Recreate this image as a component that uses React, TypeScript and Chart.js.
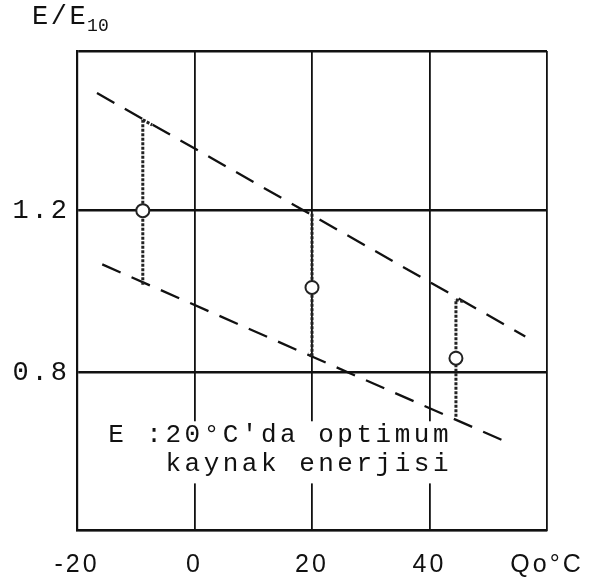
import { useEffect, useRef } from "react";
import { Chart, registerables } from "chart.js";

Chart.register(...registerables);

// ---- data ----
const xTickValues = [-20, 0, 20, 40, 60];
const xTickLabels = ["-20", "0", "20", "40", "Qo°C"];
const yLabelValues = [0.8, 1.2];
const yLabelTexts = ["0.8", "1.2"];
const xMin = -20;
const xMax = 60;
const yMin = 0.41;
const yMax = 1.595;

const upperX = [-16.6, 56.3];
const upperY = [1.491, 0.889];
const lowerX = [-15.7, 54.0];
const lowerY = [1.067, 0.622];

const barX = [-8.8, 20.0, 44.5];
const barHigh = [1.425, 1.195, 0.98];
const barLow = [1.017, 0.84, 0.69];
const barMid = [1.2, 1.01, 0.835];
// small hooks at bar ends: attach value, hook end x, hook end y
const hookAttachY = [1.425, 0.84, 0.98];
const hookEndX = [-7.2, 19.3, 45.7];
const hookEndY = [1.412, 0.846, 0.975];

const yTitle = "E/E";
const yTitleSub = "10";
const noteLines = ["E :20°C'da optimum", "   kaynak enerjisi"];
const noteX = -14.7;
const noteY = [0.627, 0.555];

const annotationPlugin = {
  id: "annot",
  beforeDraw(chart: any) {
    (chart.ctx as any).letterSpacing = "3px";
  },
  beforeDatasetsDraw(chart: any) {
    const { ctx, scales } = chart;
    const xs = scales.x;
    const ys = scales.y;
    ctx.save();
    ctx.font = "26px 'Liberation Mono'";
    (ctx as any).letterSpacing = "3.5px";
    const px = xs.getPixelForValue(noteX);
    const py0 = ys.getPixelForValue(noteY[0]);
    const py1 = ys.getPixelForValue(noteY[1]);
    let w = 0;
    noteLines.forEach((l) => (w = Math.max(w, ctx.measureText(l).width)));
    ctx.fillStyle = "#ffffff";
    ctx.fillRect(px - 8, py0 - 21, w + 10, py1 - py0 + 33);
    ctx.fillStyle = "#111";
    ctx.textBaseline = "alphabetic";
    ctx.textAlign = "left";
    ctx.fillText(noteLines[0], px, py0);
    ctx.fillText(noteLines[1], px, py1);
    ctx.restore();
  },
  afterDraw(chart: any) {
    const { ctx, chartArea } = chart;
    ctx.save();
    ctx.fillStyle = "#111";
    ctx.textAlign = "left";
    ctx.textBaseline = "alphabetic";
    ctx.font = "27px 'Liberation Mono'";
    (ctx as any).letterSpacing = "2.5px";
    const tx = chartArea.left - 45;
    const ty = chartArea.top - 27;
    ctx.fillText(yTitle, tx, ty);
    const tw = ctx.measureText(yTitle).width;
    ctx.font = "18px 'Liberation Mono'";
    (ctx as any).letterSpacing = "0px";
    ctx.fillText(yTitleSub, tx + tw - 1, ty + 7);
    ctx.restore();
  },
};

export default function App() {
  const ref = useRef<HTMLCanvasElement | null>(null);

  useEffect(() => {
    if (!ref.current) return;
    const line = (xsArr: number[], ysArr: number[]) => xsArr.map((x, i) => ({ x, y: ysArr[i] }));
    const bars = barX.map((x, i) => ({
      type: "line" as const,
      data: [
        { x, y: barLow[i] },
        { x, y: barHigh[i] },
        { x: NaN, y: NaN },
        { x, y: hookAttachY[i] },
        { x: hookEndX[i], y: hookEndY[i] },
      ],
      borderColor: "#222",
      borderWidth: 3,
      borderDash: [3, 1.5],
      pointRadius: 0,
      spanGaps: false,
      order: 2,
    }));
    const chart = new Chart(ref.current, {
      type: "scatter",
      data: {
        datasets: [
          {
            type: "line",
            data: line(upperX, upperY),
            borderColor: "#111",
            borderWidth: 2.3,
            borderDash: [20, 12],
            pointRadius: 0,
            order: 3,
          },
          {
            type: "line",
            data: line(lowerX, lowerY),
            borderColor: "#111",
            borderWidth: 2.3,
            borderDash: [20, 12],
            pointRadius: 0,
            order: 3,
          },
          ...bars,
          {
            type: "scatter",
            data: line(barX, barMid),
            pointStyle: "circle",
            pointRadius: 6.5,
            borderWidth: 2,
            borderColor: "#222",
            backgroundColor: "#ffffff",
            order: 1,
          },
        ] as any,
      },
      options: {
        animation: false,
        responsive: false,
        layout: { padding: { left: 0, right: 61, top: 51, bottom: 0 } },
        plugins: {
          legend: { display: false },
          tooltip: { enabled: false },
        },
        scales: {
          x: {
            type: "linear",
            min: xMin,
            max: xMax,
            afterBuildTicks: (s: any) => {
              s.ticks = xTickValues.map((v) => ({ value: v }));
            },
            afterFit: (s: any) => {
              s.height = 51;
            },
            ticks: {
              autoSkip: false,
              maxRotation: 0,
              padding: 20,
              color: "#111",
              font: { family: "'Liberation Sans'", size: 25 },
              callback: (v: any) => {
                const i = xTickValues.indexOf(Number(v));
                return i >= 0 ? xTickLabels[i] : "";
              },
            },
            grid: { color: "#111", lineWidth: 1.8, drawTicks: false },
            border: { display: true, color: "#111", width: 2.2 },
          },
          y: {
            type: "linear",
            min: yMin,
            max: yMax,
            afterBuildTicks: (s: any) => {
              s.ticks = [yMin, ...yLabelValues, yMax].map((v) => ({ value: v }));
            },
            afterFit: (s: any) => {
              s.width = 77;
            },
            ticks: {
              autoSkip: false,
              padding: 7,
              color: "#111",
              font: { family: "'Liberation Mono'", size: 27 },
              callback: (v: any) => {
                const i = yLabelValues.findIndex((t) => Math.abs(t - Number(v)) < 1e-6);
                return i >= 0 ? yLabelTexts[i] : "";
              },
            },
            grid: { color: "#111", lineWidth: 2.4, drawTicks: false },
            border: { display: true, color: "#111", width: 2.2 },
          },
        },
      },
      plugins: [annotationPlugin],
    });
    return () => chart.destroy();
  }, []);

  return (
    <div style={{ position: "absolute", left: 0, top: 0, width: 608, height: 581, background: "#fff" }}>
      <canvas ref={ref} width={608} height={581} style={{ display: "block" }} />
    </div>
  );
}
